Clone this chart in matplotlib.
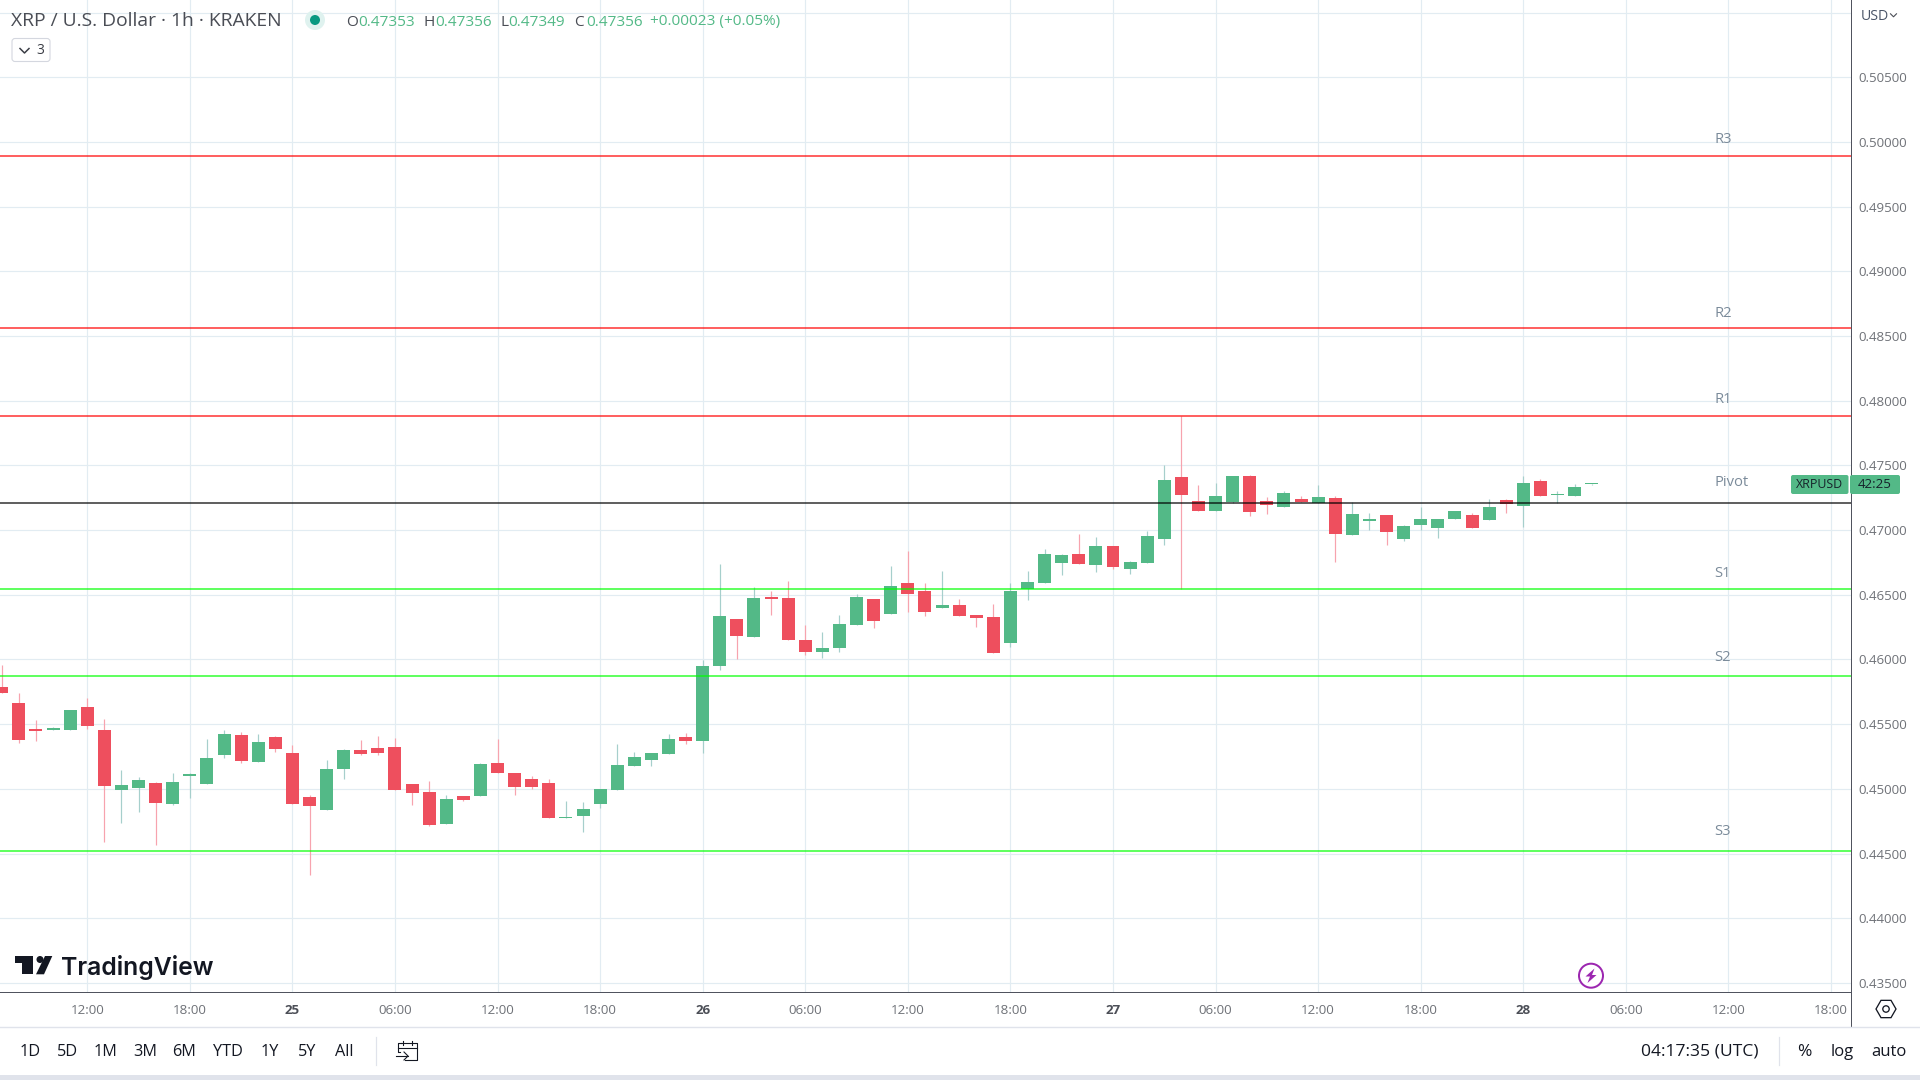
import numpy as np
import matplotlib
matplotlib.use('Agg')
import matplotlib.pyplot as plt
from matplotlib.patches import Circle, Polygon, Rectangle, FancyBboxPatch

opens = [0.45787,0.45664,0.45463,0.45455,0.45455,0.45633,0.45455,0.44991,0.45007,0.45046,
         0.44883,0.45100,0.45038,0.45262,0.45417,0.45208,0.45401,0.45277,0.44937,0.44837,
         0.45154,0.45301,0.45316,0.45324,0.45038,0.44976,0.44729,0.44945,0.44945,0.45200,
         0.45123,0.45077,0.45046,0.44775,0.44791,0.44883,0.44991,0.45177,0.45223,0.45270,
         0.45401,0.45370,0.45950,0.46313,0.46174,0.46483,0.46475,0.46151,0.46058,0.46089,
         0.46267,0.46468,0.46352,0.46591,0.46529,0.46398,0.46421,0.46344,0.46328,0.46128,
         0.46545,0.46591,0.46746,0.46815,0.46730,0.46877,0.46699,0.46746,0.46931,0.47410,
         0.47225,0.47148,0.47217,0.47418,0.47225,0.47179,0.47240,0.47209,0.47248,0.46962,
         0.47070,0.47117,0.46931,0.47039,0.47016,0.47086,0.47117,0.47078,0.47233,0.47186,
         0.47379,0.47271,0.47264,0.47353]
highs = [0.45957,0.45741,0.45532,0.45478,0.45610,0.45702,0.45540,0.45146,0.45092,0.45053,
         0.45123,0.45123,0.45386,0.45455,0.45440,0.45424,0.45409,0.45339,0.44953,0.45223,
         0.45308,0.45378,0.45409,0.45393,0.45038,0.45061,0.44953,0.44945,0.45200,0.45386,
         0.45123,0.45100,0.45077,0.44906,0.44899,0.44999,0.45347,0.45285,0.45277,0.45424,
         0.45432,0.45996,0.46738,0.46313,0.46560,0.46529,0.46607,0.46267,0.46213,0.46344,
         0.46506,0.46468,0.46723,0.46838,0.46591,0.46684,0.46468,0.46344,0.46429,0.46591,
         0.46684,0.46854,0.46815,0.46970,0.46947,0.46877,0.46761,0.46993,0.47503,0.47882,
         0.47349,0.47364,0.47418,0.47426,0.47256,0.47302,0.47264,0.47349,0.47264,0.47217,
         0.47132,0.47117,0.47039,0.47179,0.47086,0.47148,0.47132,0.47240,0.47240,0.47418,
         0.47395,0.47302,0.47356,0.47356]
lows = [0.45741,0.45355,0.45370,0.45455,0.45455,0.45463,0.44590,0.44736,0.44821,0.44566,
        0.44876,0.44930,0.45038,0.45239,0.45200,0.45208,0.45285,0.44883,0.44335,0.44837,
        0.45077,0.45262,0.45262,0.44991,0.44876,0.44713,0.44729,0.44906,0.44945,0.45123,
        0.44953,0.44999,0.44775,0.44775,0.44667,0.44852,0.44991,0.45177,0.45177,0.45270,
        0.45347,0.45277,0.45919,0.46004,0.46174,0.46344,0.46151,0.46035,0.46012,0.46058,
        0.46267,0.46243,0.46352,0.46367,0.46336,0.46398,0.46336,0.46251,0.46050,0.46097,
        0.46460,0.46591,0.46653,0.46738,0.46676,0.46699,0.46661,0.46746,0.46885,0.46545,
        0.47148,0.47148,0.47209,0.47109,0.47124,0.47179,0.47217,0.47209,0.46753,0.46962,
        0.47001,0.46885,0.46916,0.47001,0.46939,0.47086,0.47016,0.47078,0.47132,0.47024,
        0.47264,0.47209,0.47264,0.47349]
closes = [0.45741,0.45378,0.45447,0.45471,0.45610,0.45486,0.45022,0.45030,0.45069,0.44891,
          0.45053,0.45115,0.45239,0.45424,0.45216,0.45362,0.45308,0.44883,0.44868,0.45154,
          0.45301,0.45270,0.45277,0.44991,0.44968,0.44721,0.44922,0.44914,0.45192,0.45123,
          0.45015,0.45015,0.44775,0.44783,0.44845,0.44999,0.45185,0.45247,0.45277,0.45386,
          0.45370,0.45950,0.46336,0.46182,0.46475,0.46468,0.46151,0.46058,0.46089,0.46274,
          0.46483,0.46298,0.46568,0.46506,0.46367,0.46421,0.46336,0.46321,0.46050,0.46529,
          0.46599,0.46815,0.46808,0.46738,0.46877,0.46715,0.46753,0.46954,0.47387,0.47271,
          0.47148,0.47264,0.47418,0.47140,0.47194,0.47287,0.47217,0.47256,0.46970,0.47124,
          0.47086,0.46985,0.47032,0.47086,0.47086,0.47148,0.47016,0.47179,0.47202,0.47364,
          0.47264,0.47279,0.47333,0.47356]

level_names = ['R3','R2','R1','Pivot','S1','S2','S3']
level_values = [0.49895,0.48562,0.47884,0.47209,0.46545,0.45872,0.44520]
level_colors = ['#ff0000','#ff0000','#ff0000','#000000','#00ff00','#00ff00','#00ff00']

price_ticks = [0.435,0.44,0.445,0.45,0.455,0.46,0.465,0.47,0.475,0.48,0.485,0.49,0.495,0.5,0.505,0.51]
price_labels = ['0.43500','0.44000','0.44500','0.45000','0.45500','0.46000','0.46500','0.47000',
                '0.47500','0.48000','0.48500','0.49000','0.49500','0.50000','0.50500','']
time_ticks = [5,11,17,23,29,35,41,47,53,59,65,71,77,83,89,95,101,107]
time_labels = ['12:00','18:00','25','06:00','12:00','18:00','26','06:00','12:00','18:00',
               '27','06:00','12:00','18:00','28','06:00','12:00','18:00']
range_labels = ['1D','5D','1M','3M','6M','YTD','1Y','5Y','All']

plt.rcParams['font.family'] = ['Open Sans','DejaVu Sans']
GREEN = '#53b987'
RED = '#ee4f5e'
GRID = '#e2ecf2'
AXIS = '#50535e'
px = 0.72  # one pixel in points at dpi 100
min_body = 0.00008  # a body is never thinner than one pixel

fig = plt.figure(figsize=(19.2,10.8),dpi=100,facecolor='white')
ax = fig.add_axes([0,88/1080,1850.5/1920,992/1080])

o = np.array(opens)
h = np.array(highs)
l = np.array(lows)
c = np.array(closes)
x = np.arange(len(o))
up = c>=o
body = np.maximum(np.abs(c-o),min_body)
bottom = np.minimum(o,c)

ax.vlines(x[up],l[up],h[up],color='#a6cfcc',lw=1.2*px,zorder=2)
ax.vlines(x[~up],l[~up],h[~up],color='#f7a3ae',lw=1.2*px,zorder=2)
ax.bar(x[up],body[up],bottom=bottom[up],width=0.76,color=GREEN,lw=0,zorder=3)
ax.bar(x[~up],body[~up],bottom=bottom[~up],width=0.76,color=RED,lw=0,zorder=3)

for val,col in zip(level_values,level_colors):
    ax.axhline(val,color=col,lw=2*px,alpha=0.62,zorder=4,solid_capstyle='butt')

ax.set_xlim(-0.105,108.14)
ax.set_ylim(0.43430,0.51097)
ax.set_xticks(time_ticks)
ax.set_xticklabels(time_labels)
ax.set_yticks(price_ticks)
ax.set_yticklabels(price_labels)
ax.yaxis.tick_right()
ax.grid(True,color=GRID,lw=1.2*px,zorder=0)
ax.set_axisbelow(True)
ax.tick_params(axis='both',length=0,labelsize=9.6,labelcolor='#6f7278')
ax.tick_params(axis='y',pad=6)
ax.tick_params(axis='x',pad=8.7)
for lab in ax.get_xticklabels():
    if len(lab.get_text())==2:
        lab.set_fontweight('bold')
        lab.set_color('#4c4f57')
for side in ['left','top']:
    ax.spines[side].set_visible(False)
for side in ['right','bottom']:
    ax.spines[side].set_color(AXIS)
    ax.spines[side].set_linewidth(1.0*px)

# overlay in screen pixels for the widget chrome
ui = fig.add_axes([0,0,1,1],zorder=5)
ui.set_xlim(0,1920)
ui.set_ylim(1080,0)
ui.axis('off')
ui.patch.set_alpha(0)

label_y = [139.5,313.5,399.5,482.7,573.5,657.5,831.5]
for name,yy in zip(level_names,label_y):
    ui.text(1714,yy,name,fontsize=10.6,color='#7b8b9a',va='center')

ui.plot([1850.5,1850.5],[992,1027],color=AXIS,lw=1.0*px)
ui.plot([0,1920],[1026.7,1026.7],color='#e0e3eb',lw=1.4*px)
ui.add_patch(Rectangle((0,1075),1920,5,color='#e0e3eb',lw=0))

# header
ui.text(11,21.5,'XRP / U.S. Dollar · 1h · KRAKEN',fontsize=13.9,color='#4a4d55',va='center')
ui.add_patch(Circle((315,20),10,color='#dff2ef',lw=0))
ui.add_patch(Circle((315,20),5,color='#089981',lw=0))
legend_parts = [(346,'O','#4a4d55'),(358,'0.47353',GREEN),(423.5,'H','#4a4d55'),(435.5,'0.47356',GREEN),
                (500.5,'L','#4a4d55'),(508,'0.47349',GREEN),(574,'C','#4a4d55'),(586,'0.47356',GREEN),
                (650,'+0.00023 (+0.05%)',GREEN)]
for xx,txt,col in legend_parts:
    ui.text(xx,22,txt,fontsize=11.1,color=col,va='center')
ui.add_patch(FancyBboxPatch((12,38.5),38,23,boxstyle='round,pad=0,rounding_size=3',fc='white',ec='#d4d7df',lw=1.1*px))
ui.plot([20,24.5,29],[48.5,53,48.5],color='#3a3d45',lw=1.5*px)
ui.text(40,50,'3',fontsize=10,color='#3a3d45',va='center',ha='center')
ui.text(1874.5,16,'USD',fontsize=10.2,color='#4a5568',va='center',ha='center')
ui.plot([1890.5,1893.5,1896.5],[13.8,16.8,13.8],color='#4a4d55',lw=1.1*px)

# price tag
ui.add_patch(FancyBboxPatch((1791,475),57.5,19,boxstyle='round,pad=0,rounding_size=2',fc=GREEN,ec='none'))
ui.add_patch(FancyBboxPatch((1850,475),50,19,boxstyle='round,pad=0,rounding_size=2',fc=GREEN,ec='none'))
ui.text(1819.5,484.5,'XRPUSD',fontsize=8.9,color='#16222a',va='center',ha='center')
ui.text(1875,484.5,'42:25',fontsize=9.6,color='#16222a',va='center',ha='center')

# logo
ui.add_patch(Polygon([(15,956),(33.3,956),(33.3,974.3),(22.3,974.3),(22.3,963.3),(15,963.3)],color='#131722',lw=0))
ui.add_patch(Circle((40,959.5),3.5,color='#131722',lw=0))
ui.add_patch(Polygon([(45,956),(52.3,956),(44,974.3),(36,974.3)],color='#131722',lw=0))
ui.text(61,967.5,'TradingView',fontsize=17.8,fontweight='semibold',family='Inter',color='#131722',va='center')

# lightning mark
ui.add_patch(Circle((1591,975.7),12,fc='white',ec='#9c27b0',lw=2*px))
ui.add_patch(Polygon([(1594.5,968.5),(1585.5,976.5),(1590,976.5),(1587.5,983),(1596.5,975),(1592,975)],color='#9c27b0',lw=0))

# settings hexagon
ang = np.deg2rad(np.arange(0,360,60))
ui.add_patch(Polygon(np.c_[1886+10*np.cos(ang),1009+10*np.sin(ang)],fc='white',ec='#131722',lw=1.3*px))
ui.add_patch(Circle((1886,1009),3.2,fc='white',ec='#131722',lw=1.3*px))

# bottom bar
range_x = [30,68,106,145,184,228,270,307,344]
for xx,txt in zip(range_x,range_labels):
    ui.text(xx,1052,txt,fontsize=11.7,color='#131722',va='center',ha='center')
ui.plot([376,376],[1037,1065],color='#e0e3eb',lw=1.2*px)
ui.plot([1779,1779],[1037,1065],color='#e0e3eb',lw=1.2*px)
ui.plot([400,398,398,401],[1052,1052,1043,1043],color='#131722',lw=1.1*px)
ui.plot([401,417,417,405],[1043,1043,1060,1060],color='#131722',lw=1.1*px)
ui.plot([398,417],[1048,1048],color='#131722',lw=1.1*px)
ui.plot([403,403],[1041,1045],color='#131722',lw=1.1*px)
ui.plot([412,412],[1041,1045],color='#131722',lw=1.1*px)
ui.plot([396,408],[1056,1056],color='#131722',lw=1.1*px)
ui.plot([404,408,404],[1052,1056,1060],color='#131722',lw=1.1*px)
ui.text(1700,1052,'04:17:35 (UTC)',fontsize=12.6,color='#131722',va='center',ha='center')
ui.text(1804,1052,'%',fontsize=12.5,color='#131722',va='center',ha='center')
ui.text(1842,1052,'log',fontsize=12,color='#131722',va='center',ha='center')
ui.text(1889,1052,'auto',fontsize=12,color='#131722',va='center',ha='center')

fig.savefig('out.png',dpi=100,facecolor='white')
